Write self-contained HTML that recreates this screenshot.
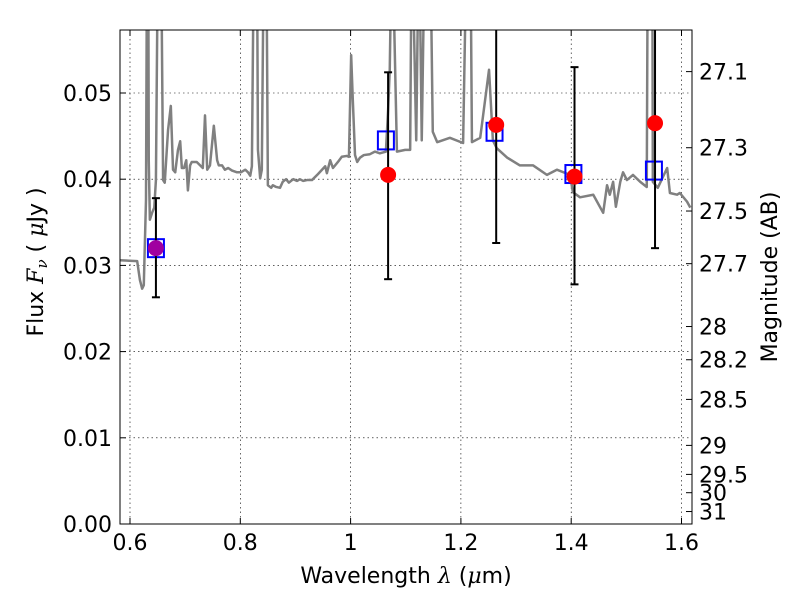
<!DOCTYPE html>
<html><head><meta charset="utf-8"><style>
body{margin:0;background:#fff}
svg{font-family:"DejaVu Sans","Liberation Sans",sans-serif}
</style></head><body>
<svg id="c" width="800" height="600"></svg>
<script>
const specLam=[0.582,0.613,0.618,0.622,0.625,0.629,0.631,0.633,0.634,0.636,0.640,0.644,0.647,0.651,0.656,0.660,0.663,0.669,0.674,0.678,0.682,0.687,0.691,0.694,0.698,0.702,0.705,0.709,0.712,0.721,0.732,0.736,0.740,0.745,0.752,0.758,0.761,0.767,0.772,0.778,0.785,0.794,0.801,0.809,0.814,0.818,0.821,0.825,0.830,0.832,0.836,0.839,0.843,0.847,0.850,0.856,0.859,0.865,0.872,0.877,0.883,0.888,0.896,0.903,0.908,0.914,0.921,0.930,0.941,0.954,0.957,0.963,0.968,0.977,0.984,0.993,0.997,1.001,1.004,1.008,1.012,1.017,1.024,1.035,1.044,1.053,1.064,1.068,1.071,1.075,1.084,1.099,1.108,1.111,1.119,1.124,1.129,1.135,1.144,1.149,1.157,1.180,1.204,1.211,1.217,1.220,1.235,1.251,1.258,1.265,1.284,1.307,1.331,1.356,1.374,1.398,1.403,1.416,1.440,1.458,1.465,1.470,1.476,1.481,1.489,1.494,1.501,1.512,1.525,1.537,1.539,1.547,1.548,1.557,1.574,1.579,1.592,1.597,1.610,1.616];
const specFlux=[.0306,.0305,.0283,.0273,.0277,.0376,.07,.07,.0422,.0353,.0361,.0367,.0399,.07,.07,.0399,.0396,.0457,.0485,.0411,.0408,.0434,.0444,.0413,.0413,.0422,.0387,.0416,.0420,.0420,.0413,.0474,.0411,.0416,.0462,.0422,.0416,.0416,.0411,.0413,.0410,.0408,.0408,.0411,.0408,.0404,.0415,.07,.07,.0434,.0401,.0411,.07,.07,.0393,.0390,.0393,.0391,.0390,.0397,.0400,.0396,.0400,.0398,.0400,.0398,.0399,.0399,.0406,.0415,.0407,.0422,.0413,.0420,.0426,.0427,.0426,.0544,.0492,.0428,.0420,.0425,.0428,.0429,.0432,.0430,.0432,.0480,.0527,.07,.0432,.0434,.0434,.07,.0445,.07,.0445,.07,.07,.0455,.0443,.0448,.0442,.07,.07,.0443,.0448,.0527,.0445,.0436,.0425,.0416,.0416,.0405,.0411,.0405,.0385,.0379,.0382,.0361,.0393,.0382,.0397,.0368,.0397,.0408,.0399,.0405,.0397,.0391,.07,.07,.0397,.0390,.0413,.0384,.0382,.0384,.0374,.0367];
const obsLam=[0.647,1.068,1.264,1.406,1.552];
const obsFlux=[0.0320,0.0405,0.0463,0.0403,0.0465];
const obsErrLo=[0.0263,0.0284,0.0326,0.0278,0.0320];
const obsErrHi=[0.0378,0.0524,0.0620,0.0530,0.0620];
const obsColor=["#a000a0","red","red","red","red"];
const modLam=[0.647,1.064,1.261,1.404,1.550];
const modFlux=[0.0320,0.0445,0.0455,0.0406,0.0410];
const xTicks=[0.6,0.8,1.0,1.2,1.4,1.6];
const xTickLabels=["0.6","0.8","1","1.2","1.4","1.6"];
const yTicks=[0,0.01,0.02,0.03,0.04,0.05];
const yTickLabels=["0.00","0.01","0.02","0.03","0.04","0.05"];
const magTicks=[27.1,27.3,27.5,27.7,28,28.2,28.5,29,29.5,30,31];
const magTickLabels=["27.1","27.3","27.5","27.7","28","28.2","28.5","29","29.5","30","31"];

const L=120,R=692,T=30,B=524,FS=22;
const X=v=>130+(v-0.6)*551.5;
const Y=v=>524-v*8620;
const magToFlux=m=>Math.pow(10,(23.9-m)/2.5);
const svg=document.getElementById('c');
const NS='http://www.w3.org/2000/svg';
function mk(t,a,p){const e=document.createElementNS(NS,t);for(const k in a)e.setAttribute(k,a[k]);(p||svg).appendChild(e);return e;}

const defs=mk('defs',{});
const cp=mk('clipPath',{id:'clip'},defs);mk('rect',{x:L,y:T,width:R-L,height:B-T},cp);

xTicks.forEach((v,i)=>{
 const g=mk('line',{x1:X(v),x2:X(v),y1:T,y2:B,stroke:'#000','stroke-width':0.6,'stroke-dasharray':'1.5,3'});
 
 mk('line',{x1:X(v),x2:X(v),y1:B,y2:B-6,stroke:'#000'});
 mk('line',{x1:X(v),x2:X(v),y1:T,y2:T+6,stroke:'#000'});
 const t=mk('text',{x:X(v),y:550,'font-size':FS,'text-anchor':'middle'});t.textContent=xTickLabels[i];
 
});
yTicks.forEach((v,i)=>{
 const g=mk('line',{x1:L,x2:R,y1:Y(v),y2:Y(v),stroke:'#000','stroke-width':0.6,'stroke-dasharray':'1.5,3'});
 
 mk('line',{x1:L,x2:L+6,y1:Y(v),y2:Y(v),stroke:'#000'});
 const t=mk('text',{x:112,y:Y(v)+8,'font-size':FS,'text-anchor':'end'});t.textContent=yTickLabels[i];
 
});
magTicks.forEach((m,i)=>{
 const y=Y(magToFlux(m));
 mk('line',{x1:R,x2:R-6,y1:y,y2:y,stroke:'#000'});
 const t=mk('text',{x:699,y:y+8,'font-size':FS});t.textContent=magTickLabels[i];
 
});

const g=mk('g',{'clip-path':'url(#clip)'});
const sp=mk('polyline',{points:specLam.map((l,i)=>X(l)+','+Y(specFlux[i])).join(' '),fill:'none',stroke:'#808080','stroke-width':2.5,'stroke-linejoin':'round'},g);


modLam.forEach((l,i)=>{
 const s=mk('rect',{x:X(l)-8,y:Y(modFlux[i])-9,width:16,height:18,fill:'none',stroke:'#0000ff','stroke-width':2},g);
 
});
obsLam.forEach((l,i)=>{
 const x=X(l);
 const e=mk('line',{x1:x,x2:x,y1:Y(obsErrLo[i]),y2:Y(obsErrHi[i]),stroke:'#000','stroke-width':2},g);
 
 mk('line',{x1:x-4,x2:x+4,y1:Y(obsErrLo[i]),y2:Y(obsErrLo[i]),stroke:'#000','stroke-width':2},g);
 mk('line',{x1:x-4,x2:x+4,y1:Y(obsErrHi[i]),y2:Y(obsErrHi[i]),stroke:'#000','stroke-width':2},g);
 const c=mk('circle',{cx:x,cy:Y(obsFlux[i]),r:8,fill:obsColor[i]},g);
 
});

const fr=mk('rect',{x:L,y:T,width:R-L,height:B-T,fill:'none',stroke:'#000','stroke-width':1});


const xt=mk('text',{x:406,y:583,'font-size':FS,'text-anchor':'middle','xml:space':'preserve'});
xt.innerHTML='Wavelength  <tspan font-family="DejaVu Serif" font-style="italic">λ</tspan> (<tspan font-family="DejaVu Serif" font-style="italic">μ</tspan>m)';

const yt=mk('text',{x:0,y:0,'font-size':FS,'text-anchor':'middle',transform:'translate(43,262) rotate(-90)','xml:space':'preserve'});
yt.innerHTML='Flux  <tspan font-family="DejaVu Serif" font-style="italic">F</tspan><tspan font-family="DejaVu Serif" font-style="italic" font-size="15" dy="4">ν</tspan><tspan dy="-4">  (  </tspan><tspan font-family="DejaVu Serif" font-style="italic">μ</tspan>Jy )';

const rt=mk('text',{x:0,y:0,'font-size':FS,'text-anchor':'middle',transform:'translate(777,277) rotate(-90)'});
rt.textContent='Magnitude (AB)';

</script>
</body></html>
